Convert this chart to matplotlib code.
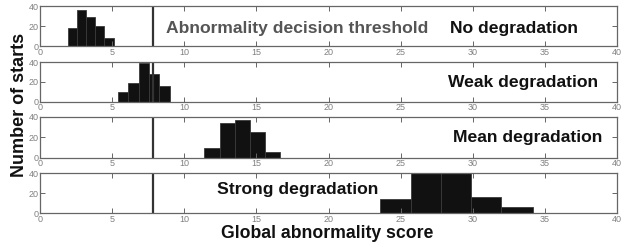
import matplotlib
matplotlib.use("Agg")
import matplotlib.pyplot as plt
import numpy as np

plt.rcParams['font.family'] = ['Liberation Sans', 'DejaVu Sans']

# Histogram data per condition: bin edges and counts
no_edges = [1.97, 2.59, 3.19, 3.82, 4.44, 5.16]
no_counts = [18, 36, 29, 20, 8]
weak_edges = [5.44, 6.13, 6.83, 7.57, 8.26, 8.98]
weak_counts = [10, 19, 39, 28, 16]
mean_edges = [11.39, 12.45, 13.52, 14.58, 15.61, 16.67]
mean_counts = [9, 34, 37, 25, 5]
strong_edges = [23.56, 25.69, 27.78, 29.86, 31.99, 34.15]
strong_counts = [14, 45, 45, 16, 6]

threshold = 7.85
labels = ["No degradation", "Weak degradation", "Mean degradation", "Strong degradation"]
x_ticks = [0, 5, 10, 15, 20, 25, 30, 35, 40]
y_ticks = [0, 20, 40]

panels = [(no_edges, no_counts), (weak_edges, weak_counts),
          (mean_edges, mean_counts), (strong_edges, strong_counts)]

W, H = 626, 247
fig = plt.figure(figsize=(W / 100, H / 100), dpi=100)

# pixel extents (top, bottom) of each panel
extents = [(6, 46), (62, 101.5), (117, 157.5), (173, 213)]
left_px, right_px = 40, 617
label_pos = [(28.4, 17), (28.3, 19.5), (28.6, 20), (12.3, 24)]

axes = []
for i, ((edges, counts), (t, b)) in enumerate(zip(panels, extents)):
    ax = fig.add_axes([left_px / W, 1 - b / H, (right_px - left_px) / W, (b - t) / H])
    edges = np.asarray(edges)
    ax.bar(edges[:-1], counts, width=np.diff(edges), align='edge',
           color='#111111', edgecolor='#3a3a3a', linewidth=0.6)
    ax.axvline(threshold, color='#333333', linewidth=1.6)
    ax.set_xlim(0, 40)
    ax.set_ylim(0, 40)
    ax.set_xticks(x_ticks)
    ax.set_yticks(y_ticks)
    ax.tick_params(direction='in', length=3.5, width=0.7, colors='#666666',
                   labelsize=6.5, top=True, right=True, pad=1.2)
    ax.tick_params(axis='both', labelcolor='#808080')
    for s in ax.spines.values():
        s.set_color('#666666')
        s.set_linewidth(0.9)
    lx, ly = label_pos[i]
    ax.text(lx, ly, labels[i], fontsize=12.6, fontweight='bold', color='#111111',
            ha='left', va='center')
    axes.append(ax)

axes[0].text(8.75, 17, "Abnormality decision threshold", fontsize=12.6,
             fontweight='bold', color='#555555', ha='left', va='center')

fig.text(19.5 / W, 1 - 104.5 / H, "Number of starts", rotation=90, fontsize=13,
         fontweight='bold', ha='center', va='center', color='#111111')
fig.text(327 / W, 1 - 233 / H, "Global abnormality score", fontsize=12.7,
         fontweight='bold', ha='center', va='center', color='#111111')

fig.savefig("out.png", dpi=100)
